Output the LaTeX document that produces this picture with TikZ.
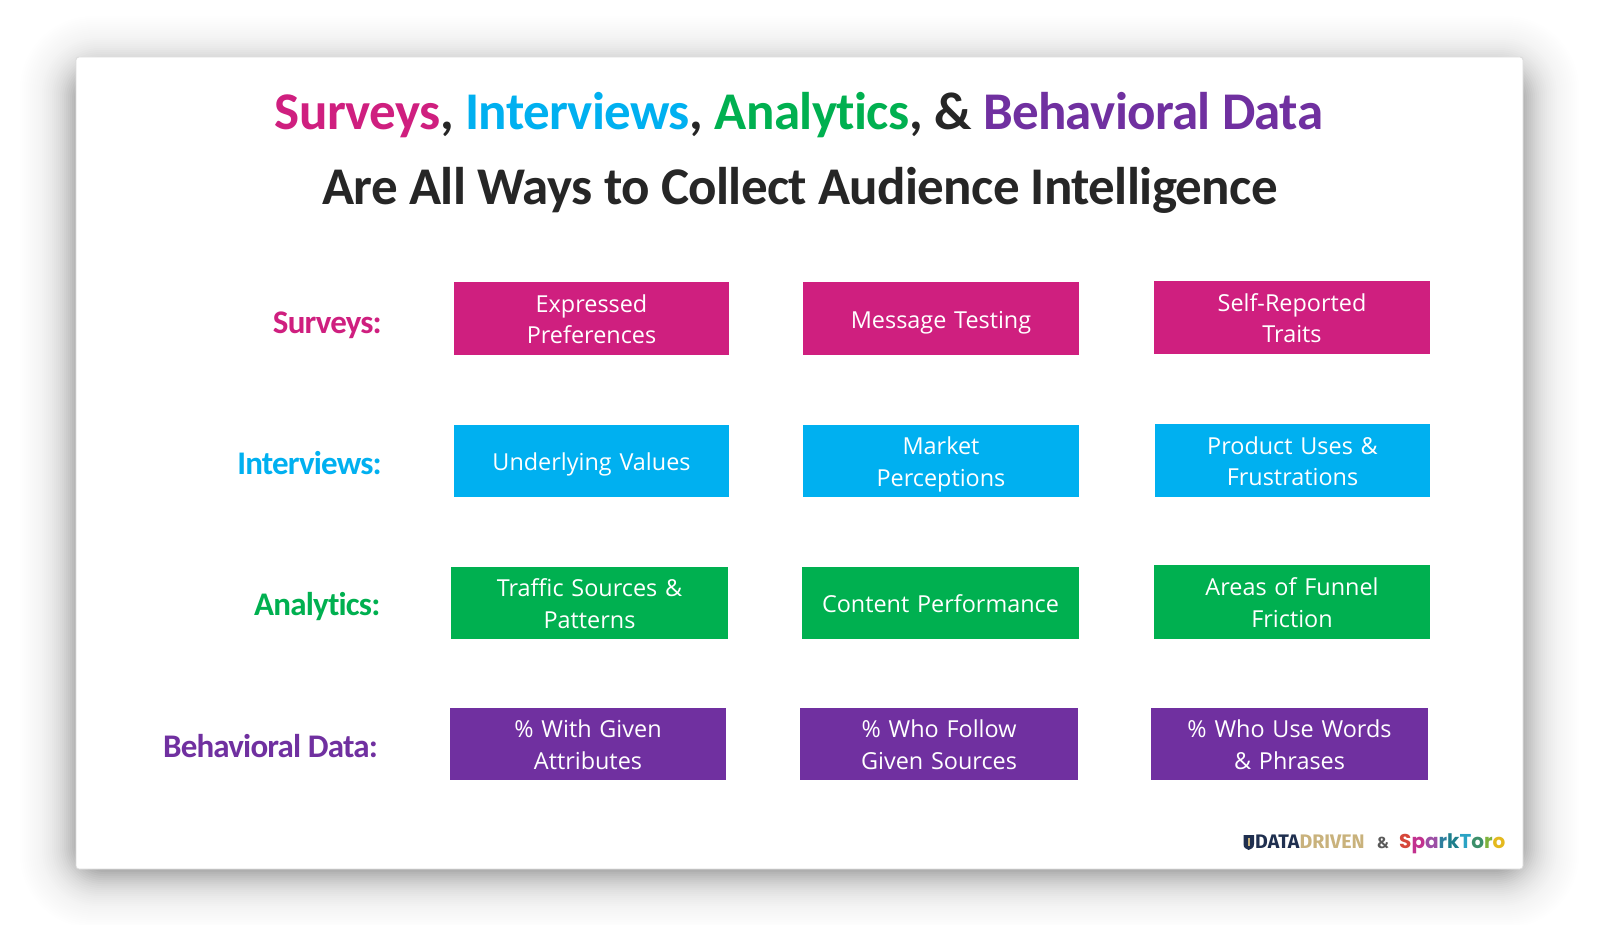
\documentclass[tikz,border=0pt]{standalone}
\usepackage{fontspec}
\setmainfont[Ligatures=CommonOff]{Carlito}
\newfontfamily\boxfont{Open Sans}
\newfontfamily\ddfont{Fira Sans}
\newfontfamily\stfont{Poppins}
\definecolor{cmag}{HTML}{CF1F7F}
\definecolor{cblue}{HTML}{00B0F0}
\definecolor{cgreen}{HTML}{00B050}
\definecolor{cpurple}{HTML}{7030A0}
\definecolor{cink}{HTML}{262626}
\newcommand{\st}{\rule[-6pt]{0pt}{31pt}}
\tikzset{
  cell/.style={fill=#1,anchor=north west,inner sep=0pt,outer sep=0pt,text=white,align=center,
     font=\boxfont\fontsize{23.4}{31.7}\selectfont},
  rowlab/.style={anchor=east,inner sep=0pt,text=#1,font=\bfseries\fontsize{33}{36}\selectfont\addfontfeature{LetterSpace=-2.5}},
  titleline/.style={anchor=base,inner sep=0pt,font=\bfseries\fontsize{53}{56}\selectfont\addfontfeature{LetterSpace=-1.25}},
}
\newcommand{\cellbox}[7]{% name, colour, x0,y0,x1,y1, text
  \pgfmathsetlengthmacro{\cw}{(#5-#3)*1pt}\pgfmathsetlengthmacro{\ch}{(#6-#4)*1pt}
  \node[cell=#2,minimum width=\cw,minimum height=\ch,text width=\cw] (#1) at (#3,#4) {#7};}
\begin{document}
\begin{tikzpicture}[x=1pt,y=-1pt]
\useasboundingbox (0,0) rectangle (1600,925);
\fill[white] (0,0) rectangle (1600,925);
% soft shadow: darkness falls off exponentially with distance from an inset rectangle
\foreach \d in {84,82,...,-6}{
  \pgfmathsetmacro{\al}{0.041*exp(-\d/20)}
  \pgfmathsetmacro{\rr}{25+\d*0.8}
  \fill[black,opacity=\al,rounded corners=\rr pt] (80-\d,76-\d) rectangle (1519+\d,868+\d);
}
\fill[white,draw=black!14,line width=0.8pt,rounded corners=3pt] (76,57) rectangle (1523,869);
% title
\node[titleline] (t1) at (799,130) {\textcolor{cmag}{Surveys}\textcolor{cink}{,} \textcolor{cblue}{Interviews}\textcolor{cink}{,} \textcolor{cgreen}{Analytics}\textcolor{cink}{, \&} \textcolor{cpurple}{Behavioral Data}};
\node[titleline,text=cink] (t2) at (800,205) {Are All Ways to Collect Audience Intelligence};
% labels
\node[rowlab=cmag] (lsurveys) at (382,325) {Surveys:};
\node[rowlab=cblue] (linterviews) at (382,463) {Interviews:};
\node[rowlab=cgreen] (lanalytics) at (380.5,607) {Analytics:};
\node[rowlab=cpurple] (lbehav) at (378,746) {Behavioral Data:};
% cells
\cellbox{a1}{cmag}{454}{282}{729}{355}{\st Expressed\\\st Preferences}
\cellbox{a2}{cmag}{803}{282}{1079}{355}{\st Message Testing}
\cellbox{a3}{cmag}{1154}{281}{1430}{354}{\st Self-Reported\\\st Traits}
\cellbox{b1}{cblue}{454}{425}{729}{497}{\st Underlying Values}
\cellbox{b2}{cblue}{803}{425}{1079}{497}{\st Market\\\st Perceptions}
\cellbox{b3}{cblue}{1155}{424}{1430}{497}{\st Product Uses \&\\\st Frustrations}
\cellbox{c1}{cgreen}{451}{567}{728}{639}{\st Traffic Sources \&\\\st Patterns}
\cellbox{c2}{cgreen}{802}{567}{1079}{639}{\st Content Performance}
\cellbox{c3}{cgreen}{1154}{565}{1430}{639}{\st Areas of Funnel\\\st Friction}
\cellbox{d1}{cpurple}{450}{708}{726}{780}{\st \% With Given\\\st Attributes}
\cellbox{d2}{cpurple}{800}{708}{1078}{780}{\st \% Who Follow\\\st Given Sources}
\cellbox{d3}{cpurple}{1151}{708}{1428}{780}{\st \% Who Use Words\\\st \& Phrases}
% logos
\fill[fill={rgb,255:red,31;green,47;blue,79}] (1243.5,835) -- (1254,835) -- (1254,844) .. controls (1254,848) and (1251,849) .. (1248.7,850) .. controls (1246,849) and (1243.5,848) .. (1243.5,844) -- cycle;
\fill[fill={rgb,255:red,201;green,178;blue,124}] (1247.7,838) rectangle (1249.7,846);
\node[anchor=base west,inner sep=0pt,font=\ddfont\bfseries\fontsize{19.6}{20}\selectfont] (dd) at (1255,848) {\textcolor[HTML]{1F2F4F}{DATA}\textcolor[HTML]{C9B27C}{DRIVEN}};
\node[anchor=base,inner sep=0pt,text=black!65,font=\ddfont\bfseries\fontsize{16}{18}\selectfont] (amp) at (1383,848) {\&};
\node[anchor=base west,inner sep=0pt,font=\stfont\bfseries\fontsize{20}{24}\selectfont] (st) at (1399,848) {\textcolor[HTML]{D6473A}{S}\textcolor[HTML]{C2318F}{p}\textcolor[HTML]{9C4FA5}{a}\textcolor[HTML]{2E7F9E}{r}\textcolor[HTML]{1E7F8C}{k}\textcolor[HTML]{2AA3C4}{T}\textcolor[HTML]{3C8F6A}{o}\textcolor[HTML]{7FB23C}{r}\textcolor[HTML]{E4B91E}{o}};
\end{tikzpicture}
\end{document}
